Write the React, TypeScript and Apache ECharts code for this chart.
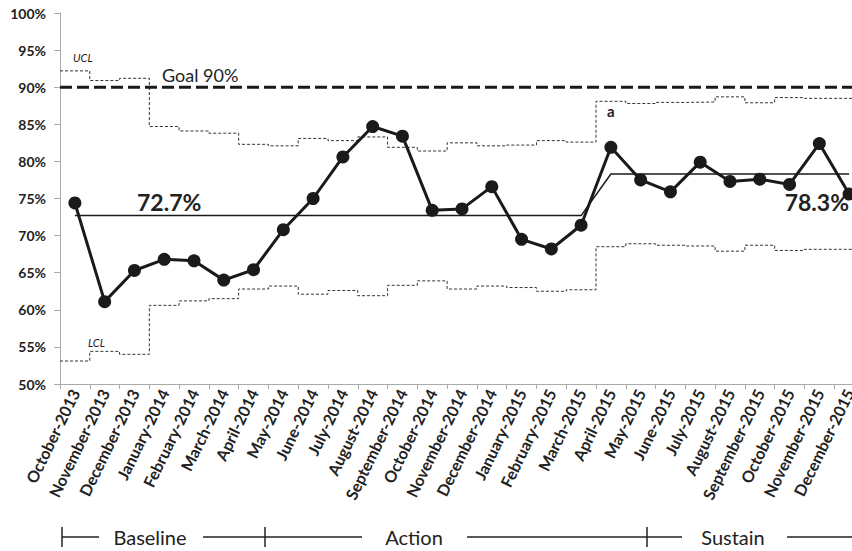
import React, { useEffect, useRef } from "react";
import * as echarts from "echarts";

const categories = [
  "October-2013", "November-2013", "December-2013", "January-2014", "February-2014",
  "March-2014", "April-2014", "May-2014", "June-2014", "July-2014", "August-2014",
  "September-2014", "October-2014", "November-2014", "December-2014", "January-2015",
  "February-2015", "March-2015", "April-2015", "May-2015", "June-2015", "July-2015",
  "August-2015", "September-2015", "October-2015", "November-2015", "December-2015",
];

const rates = [
  74.4, 61.1, 65.3, 66.8, 66.6, 64.0, 65.4, 70.8, 75.0, 80.6, 84.7, 83.4, 73.4, 73.6,
  76.6, 69.5, 68.2, 71.4, 81.9, 77.5, 75.9, 79.9, 77.3, 77.6, 76.9, 82.4, 75.6,
];

const centerLine = [
  72.7, 72.7, 72.7, 72.7, 72.7, 72.7, 72.7, 72.7, 72.7, 72.7, 72.7, 72.7, 72.7, 72.7,
  72.7, 72.7, 72.7, 72.7, 78.3, 78.3, 78.3, 78.3, 78.3, 78.3, 78.3, 78.3, 78.3,
];

const ucl = [
  92.2, 90.9, 91.2, 84.7, 84.1, 83.8, 82.3, 82.1, 83.1, 82.8, 83.3, 81.9, 81.4, 82.5,
  82.1, 82.2, 82.8, 82.6, 88.1, 87.8, 87.95, 88.0, 88.7, 87.9, 88.6, 88.5, 88.5,
];

const lcl = [
  53.1, 54.4, 54.0, 60.6, 61.2, 61.5, 62.8, 63.2, 62.1, 62.6, 61.9, 63.3, 63.9, 62.8,
  63.2, 63.0, 62.5, 62.7, 68.5, 68.9, 68.7, 68.6, 67.9, 68.7, 68.0, 68.15, 68.15,
];

const goal = 90;
const yTicks = { min: 50, max: 100, interval: 5 };

const FONT = "Lato";

function stepData(arr: number[]) {
  const d = arr.map((v, i) => [i, v]);
  d.push([arr.length, arr[arr.length - 1]]);
  return d;
}

export default function App() {
  const ref = useRef<HTMLDivElement>(null);
  useEffect(() => {
    if (!ref.current) return;
    const chart = echarts.init(ref.current, null, { renderer: "svg" });
    const dark = "#222";
    const phaseY = 537;
    chart.setOption({
      animation: false,
      textStyle: { fontFamily: FONT },
      grid: { left: 60, top: 13, bottom: 167, right: 0 },
      xAxis: [
        {
          type: "category",
          data: categories,
          boundaryGap: true,
          axisLine: { lineStyle: { color: "#aaa", width: 1 } },
          axisTick: { show: true, length: 5, lineStyle: { color: "#aaa" } },
          axisLabel: {
            interval: 0,
            rotate: 64,
            fontWeight: "bold",
            fontSize: 16,
            color: dark,
            fontFamily: FONT,
            margin: 6,
          },
        },
        { type: "value", min: 0, max: 27, show: false },
      ],
      yAxis: {
        type: "value",
        min: yTicks.min,
        max: yTicks.max,
        interval: yTicks.interval,
        splitLine: { show: false },
        axisLine: { show: true, lineStyle: { color: "#aaa", width: 1 } },
        axisTick: { show: true, length: 6, lineStyle: { color: "#aaa" } },
        axisLabel: {
          formatter: "{value}%",
          fontWeight: "bold",
          fontSize: 14,
          color: dark,
          fontFamily: FONT,
          margin: 14,
        },
      },
      series: [
        {
          name: "UCL",
          type: "line",
          xAxisIndex: 1,
          step: "end",
          data: stepData(ucl),
          symbol: "none",
          lineStyle: { color: "#333", width: 1, type: [3, 2] },
          z: 1,
        },
        {
          name: "LCL",
          type: "line",
          xAxisIndex: 1,
          step: "end",
          data: stepData(lcl),
          symbol: "none",
          lineStyle: { color: "#333", width: 1, type: [3, 2] },
          z: 1,
        },
        {
          name: "Goal",
          type: "line",
          xAxisIndex: 1,
          data: [[0, goal], [27, goal]],
          symbol: "none",
          lineStyle: { color: "#1a1a1a", width: 3, type: [12, 5] },
          z: 2,
        },
        {
          name: "Center",
          type: "line",
          data: centerLine,
          symbol: "none",
          lineStyle: { color: "#1a1a1a", width: 1.5 },
          z: 3,
        },
        {
          name: "Rate",
          type: "line",
          data: rates,
          symbol: "circle",
          symbolSize: 13,
          itemStyle: { color: "#1a1a1a" },
          lineStyle: { color: "#1a1a1a", width: 3 },
          z: 4,
        },
      ],
      graphic: [
        { type: "text", left: 162, top: 66, style: { text: "Goal 90%", font: `18px ${FONT}`, fill: dark } },
        { type: "text", left: 73, top: 52, style: { text: "UCL", font: `italic 11px ${FONT}`, fill: dark } },
        { type: "text", left: 88, top: 337, style: { text: "LCL", font: `italic 11px ${FONT}`, fill: dark } },
        { type: "text", x: 137, y: 213, style: { text: "72.7%", font: `bold 23px ${FONT}`, fill: dark, verticalAlign: "bottom" } },
        { type: "text", x: 849, y: 213, style: { text: "78.3%", font: `bold 23px ${FONT}`, fill: dark, align: "right", verticalAlign: "bottom" } },
        { type: "text", left: 607, top: 103, style: { text: "a", font: `bold 15px ${FONT}`, fill: dark } },
        // phase bar
        { type: "line", shape: { x1: 62, y1: phaseY, x2: 99, y2: phaseY }, style: { stroke: dark, lineWidth: 1.5 } },
        { type: "line", shape: { x1: 203, y1: phaseY, x2: 362, y2: phaseY }, style: { stroke: dark, lineWidth: 1.5 } },
        { type: "line", shape: { x1: 467, y1: phaseY, x2: 682, y2: phaseY }, style: { stroke: dark, lineWidth: 1.5 } },
        { type: "line", shape: { x1: 787, y1: phaseY, x2: 864, y2: phaseY }, style: { stroke: dark, lineWidth: 1.5 } },
        { type: "line", shape: { x1: 62, y1: 527, x2: 62, y2: 547 }, style: { stroke: dark, lineWidth: 1.5 } },
        { type: "line", shape: { x1: 265, y1: 527, x2: 265, y2: 547 }, style: { stroke: dark, lineWidth: 1.5 } },
        { type: "line", shape: { x1: 647, y1: 527, x2: 647, y2: 547 }, style: { stroke: dark, lineWidth: 1.5 } },
        { type: "text", x: 150, y: phaseY, style: { text: "Baseline", font: `20px ${FONT}`, fill: dark, align: "center", verticalAlign: "middle" } },
        { type: "text", x: 414, y: phaseY, style: { text: "Action", font: `20px ${FONT}`, fill: dark, align: "center", verticalAlign: "middle" } },
        { type: "text", x: 733, y: phaseY, style: { text: "Sustain", font: `20px ${FONT}`, fill: dark, align: "center", verticalAlign: "middle" } },
      ],
    });
    return () => chart.dispose();
  }, []);
  return (
    <div style={{ position: "absolute", left: 0, top: 0, width: 852, height: 551, overflow: "hidden", background: "#fff" }}>
      <div ref={ref} style={{ width: 864, height: 551 }} />
    </div>
  );
}
